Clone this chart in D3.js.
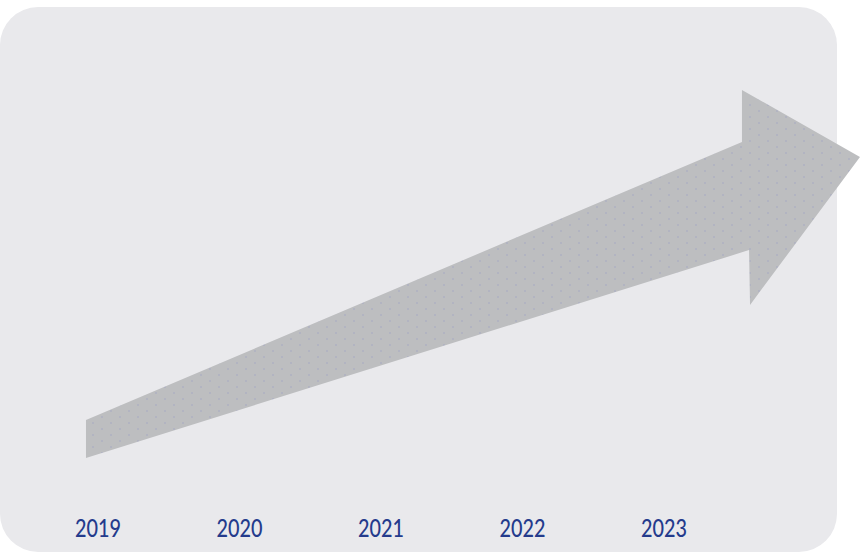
<!DOCTYPE html>
<html>
<head>
<meta charset="utf-8">
<script src="https://cdn.jsdelivr.net/npm/d3@7"></script>
<style>
  html, body { margin: 0; padding: 0; background: #ffffff; }
  svg { display: block; }
</style>
</head>
<body>
<div id="chart"></div>
<script>
// ---- data ----
const years = [2019, 2020, 2021, 2022, 2023];
const yearLabels = ["2019", "2020", "2021", "2022", "2023"];
// arrow outline in data units: [year, value]
const arrowYears  = [2018.915, 2023.551, 2023.551, 2024.385, 2023.608, 2023.601, 2018.915];
const arrowValues = [10.3,     85.9,     100,      81.8,     41.6,     56.5,     0];

// ---- layout ----
const W = 861, H = 555;
const svg = d3.select("#chart").append("svg").attr("width", W).attr("height", H);

const x = d3.scaleLinear().domain([2019, 2023]).range([98, 664]);
const y = d3.scaleLinear().domain([0, 100]).range([458, 90]);

// background panel
svg.append("rect")
  .attr("x", 0).attr("y", 7).attr("width", 837).attr("height", 545)
  .attr("rx", 38).attr("ry", 38)
  .attr("fill", "#e9e9ec");

// dotted texture pattern
const defs = svg.append("defs");
const pat = defs.append("pattern")
  .attr("id", "dots").attr("patternUnits", "userSpaceOnUse")
  .attr("width", 18).attr("height", 12);
pat.append("rect").attr("width", 18).attr("height", 12).attr("fill", "#bdbec0");
pat.append("circle").attr("cx", 3).attr("cy", 3).attr("r", 0.7).attr("fill", "#9fa2c4");
pat.append("circle").attr("cx", 12).attr("cy", 9).attr("r", 0.7).attr("fill", "#9fa2c4");

// arrow
const pts = arrowYears.map((yr, i) => [x(yr), y(arrowValues[i])]);
svg.append("path")
  .attr("d", d3.line()(pts) + "Z")
  .attr("fill", "url(#dots)");

// year labels
svg.selectAll("text.year")
  .data(years)
  .enter().append("text")
  .attr("class", "year")
  .attr("x", d => x(d))
  .attr("y", 537)
  .attr("text-anchor", "middle")
  .attr("textLength", 46)
  .attr("lengthAdjust", "spacingAndGlyphs")
  .attr("font-family", "Lato, 'Noto Sans', sans-serif")
  .attr("font-size", 25)
  .attr("font-weight", 500)
  .attr("fill", "#243b8c")
  .text((d, i) => yearLabels[i]);
</script>
</body>
</html>
